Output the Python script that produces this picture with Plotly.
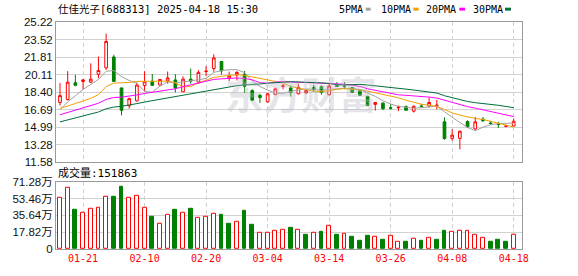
import plotly.graph_objects as go
import numpy as np
import pandas as pd

# ---------------- data ----------------
dates = ["01-16", "01-17", "01-20", "01-21", "01-22", "01-23", "01-24", "01-27",
         "02-05", "02-06", "02-07", "02-10", "02-11", "02-12", "02-13", "02-14",
         "02-17", "02-18", "02-19", "02-20", "02-21", "02-24", "02-25", "02-26",
         "02-27", "02-28", "03-03", "03-04", "03-05", "03-06", "03-07", "03-10",
         "03-11", "03-12", "03-13", "03-14", "03-17", "03-18", "03-19", "03-20",
         "03-21", "03-24", "03-25", "03-26", "03-27", "03-28", "03-31", "04-01",
         "04-02", "04-03", "04-07", "04-08", "04-09", "04-10", "04-11", "04-14",
         "04-15", "04-16", "04-17", "04-18"]

opens = [17.40, 17.68, 19.31, 19.44, 19.37, 20.13, 20.76, 21.82, 18.81, 17.08,
         17.55, 19.06, 19.47, 19.09, 19.50, 19.59, 18.43, 19.66, 19.37, 20.41,
         20.69, 21.38, 19.75, 20.07, 20.13, 18.56, 18.09, 17.46, 18.15, 18.97,
         18.81, 18.24, 18.34, 18.84, 18.93, 18.15, 19.02, 19.00, 18.84, 18.56,
         17.99, 17.21, 17.33, 16.88, 16.88, 16.99, 16.55, 17.05, 17.05, 17.10,
         15.51, 13.91, 13.91, 15.54, 14.82, 15.76, 15.40, 15.29, 15.08, 15.10]

highs = [19.28, 20.44, 20.07, 19.65, 21.20, 21.86, 24.09, 22.04, 18.85, 17.87,
         19.34, 20.44, 20.16, 19.68, 20.41, 20.16, 19.94, 20.69, 20.54, 20.94,
         22.08, 21.40, 20.41, 20.44, 20.47, 18.68, 18.24, 18.27, 18.84, 19.19,
         19.06, 19.22, 18.68, 19.12, 19.06, 19.22, 19.37, 19.37, 18.90, 18.60,
         18.05, 17.42, 17.43, 17.24, 17.11, 17.11, 17.11, 17.27, 17.87, 17.65,
         15.95, 14.79, 14.66, 15.67, 15.98, 15.98, 15.61, 15.51, 15.20, 15.83]

lows = [17.11, 17.60, 18.97, 18.65, 19.30, 19.75, 20.57, 19.40, 16.14, 16.80,
        17.49, 18.49, 19.00, 19.05, 19.22, 18.37, 18.40, 19.22, 19.20, 19.94,
        20.38, 20.10, 19.47, 19.53, 18.31, 17.55, 17.36, 17.36, 18.12, 18.68,
        17.96, 18.18, 18.21, 18.43, 18.15, 18.10, 18.90, 18.68, 18.30, 18.05,
        17.05, 16.61, 16.64, 16.70, 16.55, 16.58, 16.42, 16.92, 16.92, 16.74,
        13.78, 13.66, 12.84, 14.91, 14.76, 15.48, 15.23, 14.91, 15.00, 15.08]

closes = [18.06, 19.37, 19.06, 19.59, 19.66, 20.50, 23.33, 19.44, 16.64, 17.77,
          19.09, 19.41, 19.06, 19.63, 19.78, 18.81, 19.66, 19.47, 20.32, 20.44,
          21.73, 20.47, 19.97, 20.32, 18.97, 17.62, 17.87, 18.24, 18.71, 19.00,
          18.37, 18.87, 18.56, 18.65, 18.37, 19.00, 18.96, 18.98, 18.40, 18.09,
          17.11, 17.40, 16.80, 16.84, 16.93, 16.64, 17.02, 17.00, 17.40, 17.13,
          13.88, 14.22, 14.60, 15.04, 15.51, 15.63, 15.35, 15.26, 15.11, 15.57]

volumes = [544000, 647000, 413000, 379000, 423500, 434000, 554000, 558000, 661000, 544000,
           565000, 441000, 341000, 265000, 368000, 413000, 389000, 423500, 330600, 341000,
           368500, 361600, 268600, 285800, 402900, 254800, 172200, 172200, 192800, 203100,
           227300, 203100, 155000, 172200, 182500, 244500, 151500, 158400, 134300, 89500,
           144600, 130800, 101000, 144600, 79200, 72300, 113600, 82600, 124000, 93000,
           196300, 182500, 196300, 196300, 155000, 124000, 72300, 93000, 72300, 151863]

# closes before the visible window (estimated), used only to warm up the moving averages
prior_closes = [13.6, 13.8, 13.7, 14.0, 14.2, 14.1, 14.3, 14.5, 14.4, 14.6,
                14.8, 15.0, 15.3, 15.2, 15.6, 15.8, 15.7, 16.0, 16.2, 16.3,
                16.6, 17.0, 17.2, 17.1, 16.8, 15.6, 16.0, 16.6, 17.2]

ma_periods = [5, 10, 20, 30]
ma_names = ["5PMA", "10PMA", "20PMA", "30PMA"]
ma_colors = ["#a0a0a0", "#f0a000", "#ff00ff", "#006e3a"]

price_ticks = [11.58, 13.28, 14.99, 16.69, 18.40, 20.11, 21.81, 23.52, 25.22]
vol_ticks = [0, 178200, 356400, 534600, 712800]
vol_tick_text = ["0", "17.82万", "35.64万", "53.46万", "71.28万"]
x_tick_labels = ["01-21", "02-10", "02-20", "03-04", "03-14", "03-26", "04-08", "04-18"]

title_text = "仕佳光子[688313] 2025-04-18 15:30"
vol_title = "成交量:151863"
watermark = "东方财富"

# ---------------- derived ----------------
RED = "#ff0000"
GREEN = "#008000"
idx = list(range(len(dates)))
x_tickvals = [dates.index(d) for d in x_tick_labels]

all_close = pd.Series(prior_closes + closes)
mas = [all_close.rolling(p).mean().to_numpy()[-len(closes):] for p in ma_periods]

prev_close = [prior_closes[-1]] + closes[:-1]
vol_up = [c >= p for c, p in zip(closes, prev_close)]
vol_fill = ["#ffffff" if u else GREEN for u in vol_up]
vol_line = [RED if u else GREEN for u in vol_up]

fig = go.Figure()

fig.add_trace(go.Candlestick(
    x=idx, open=opens, high=highs, low=lows, close=closes,
    increasing=dict(line=dict(color=RED, width=1), fillcolor="#ffffff"),
    decreasing=dict(line=dict(color=GREEN, width=1), fillcolor=GREEN),
    whiskerwidth=0, xaxis="x", yaxis="y", showlegend=False, hoverinfo="skip"))

for ma, name, col in zip(mas, ma_names, ma_colors):
    fig.add_trace(go.Scatter(x=idx, y=ma, mode="lines", name=name,
                             line=dict(color=col, width=1),
                             xaxis="x", yaxis="y", showlegend=False, hoverinfo="skip"))

fig.add_trace(go.Bar(x=idx, y=volumes, width=0.5,
                     marker=dict(color=vol_fill, line=dict(color=vol_line, width=1)),
                     xaxis="x2", yaxis="y2", showlegend=False, hoverinfo="skip"))

GRID = "#d2d2d2"
BORDER = "#9a9a9a"
XR = [-0.52, 60.08]
LABEL_FONT = dict(family="Liberation Sans, Noto Sans CJK SC", size=11.5, color="#111111")

common_x = dict(range=XR, tickmode="array", tickvals=x_tickvals, ticks="",
                showgrid=True, gridcolor=GRID, griddash="4px,3px", gridwidth=1,
                showline=True, mirror=True, linecolor=BORDER, linewidth=1,
                zeroline=False, fixedrange=True)

fig.update_layout(
    width=578, height=276,
    margin=dict(l=56, r=56, t=22, b=21),
    paper_bgcolor="#ffffff", plot_bgcolor="#ffffff",
    boxgap=0.5,
    bargap=0,
    xaxis=dict(domain=[0, 1], anchor="y", showticklabels=False,
               rangeslider=dict(visible=False), **common_x),
    xaxis2=dict(domain=[0, 1], anchor="y2", showticklabels=True,
                ticktext=x_tick_labels,
                tickfont=dict(family="DejaVu Sans Mono", size=10, color=RED),
                **common_x),
    yaxis=dict(domain=[0.382, 1], anchor="x", range=[price_ticks[0], price_ticks[-1]],
               tickmode="array", tickvals=price_ticks,
               ticktext=["%.2f" % v for v in price_ticks], ticks="",
               tickfont=LABEL_FONT, showgrid=True, gridcolor=GRID,
               showline=True, mirror=True, linecolor=BORDER, zeroline=False),
    yaxis2=dict(domain=[0, 0.2961], anchor="x2", range=[vol_ticks[0], vol_ticks[-1]],
                tickmode="array", tickvals=vol_ticks, ticktext=vol_tick_text, ticks="",
                tickfont=LABEL_FONT, showgrid=True, gridcolor=GRID,
                showline=True, mirror=True, linecolor=BORDER, zeroline=False),
)

annotations = [
    dict(text=watermark, xref="paper", yref="paper", x=0.525, y=0.691,
         xanchor="center", yanchor="middle", showarrow=False,
         font=dict(family="Noto Sans CJK SC", size=38, color="rgba(185,185,198,0.38)", weight=700)),
    dict(text=title_text, xref="paper", yref="paper", x=0.002, y=1.0558,
         xanchor="left", yanchor="middle", showarrow=False, borderpad=0,
         font=dict(family="DejaVu Sans Mono, Noto Sans CJK SC", size=10.5, color="#000000")),
    dict(text=vol_title, xref="paper", yref="paper", x=0.002, y=0.335,
         xanchor="left", yanchor="middle", showarrow=False, borderpad=0,
         font=dict(family="DejaVu Sans Mono, Noto Sans CJK SC", size=11, color="#000000")),
]

legend_text_x = [0.6052, 0.6953, 0.7925, 0.8920]
legend_sq_x = [(0.6646, 0.6753), (0.7667, 0.7783), (0.8655, 0.8777), (0.9635, 0.9764)]
shapes = []
for name, col, tx, (sx0, sx1) in zip(ma_names, ma_colors, legend_text_x, legend_sq_x):
    annotations.append(dict(text=name, xref="paper", yref="paper", x=tx, y=1.0558,
                            xanchor="left", yanchor="middle", showarrow=False, borderpad=0,
                            font=dict(family="DejaVu Sans Mono", size=10, color="#000000")))
    shapes.append(dict(type="rect", xref="paper", yref="paper", x0=sx0, x1=sx1,
                       y0=1.0502, y1=1.0631, fillcolor=col, line=dict(width=0)))

fig.update_layout(annotations=annotations, shapes=shapes)

fig.write_html("out.html")
